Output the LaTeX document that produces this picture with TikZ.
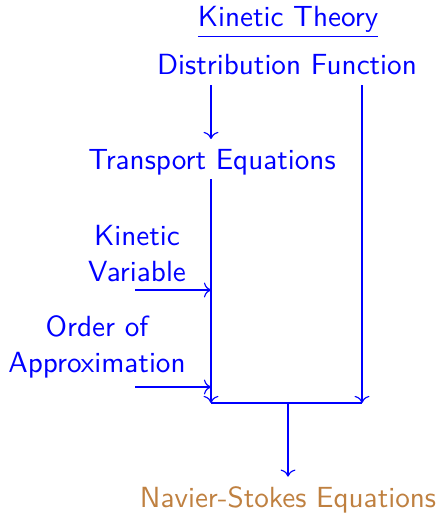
\documentclass[tikz,border=0pt]{standalone}
\usepackage{tikz}
\usetikzlibrary{positioning,arrows.meta}

\begin{document}
\begin{tikzpicture}[
      x=0.0123cm, y=-0.0123cm,
      lbl/.style={text=blue, font=\sffamily\fontsize{10.2}{12.6}\selectfont, align=center},
      res/.style={text=brown, font=\sffamily\fontsize{10.2}{12.6}\selectfont},
      flow/.style={->, blue},
    ]
    \useasboundingbox (0,0) rectangle (439,514);
    \node[lbl] (kt) at (288,22) {\underline{Kinetic Theory}};
    \node[lbl] (dist) at (287,65) {Distribution Function};
    \node[lbl] (trans) at (212,162) {Transport Equations};
    \node[lbl] (kv) at (137,254) {Kinetic\\Variable};
    \node[lbl] (oa) at (97,347) {Order of\\Approximation};
    \node[res] (ns) at (288,500) {Navier-Stokes Equations};

    % junction points
    \coordinate (jl) at (211,403);
    \coordinate (jr) at (362,403);
    \coordinate (jm) at (288,403);
    \coordinate (kvs) at (135,290);
    \coordinate (oas) at (135,387);

    \draw[flow] (dist.south -| jl) -- (trans.north -| jl);
    \draw[flow, shorten <=-2pt] (trans.south -| jl) -- (jl);
    \draw[flow] (dist.south -| jr) -- (jr);
    \draw[flow] (kvs) -- (kvs -| jl);
    \draw[flow] (oas) -- (oas -| jl);
    \draw[blue] (jl) -- (jr);
    \draw[flow] (jm) -- (ns);
  \end{tikzpicture}
\end{document}
